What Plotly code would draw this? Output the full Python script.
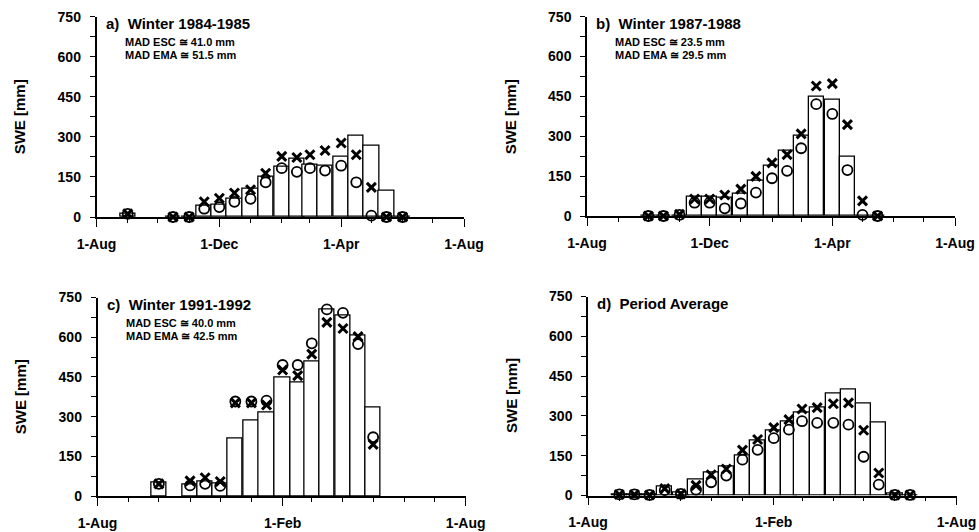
import plotly.graph_objects as go

# ---------------- data ----------------
# a) Winter 1984-1985
dates_a = ["1984-09-01", "1984-10-16", "1984-11-01", "1984-11-16", "1984-12-01", "1984-12-16",
           "1985-01-01", "1985-01-16", "1985-02-01", "1985-02-16", "1985-03-01", "1985-03-16",
           "1985-04-01", "1985-04-16", "1985-05-01", "1985-05-16", "1985-06-01"]
obs_a = [12, 0, 0, 42, 47, 67, 107, 152, 187, 217, 197, 192, 224, 304, 267, 100, 0]
esc_a = [12, 0, 0, 31, 37, 57, 68, 130, 183, 169, 183, 174, 192, 130, 5, 0, 0]
ema_a = [12, 0, 0, 57, 70, 90, 102, 164, 227, 223, 233, 249, 277, 233, 111, 0, 0]

# b) Winter 1987-1988
dates_b = ["1987-10-01", "1987-10-16", "1987-11-01", "1987-11-16", "1987-12-01", "1987-12-16",
           "1988-01-01", "1988-01-16", "1988-02-01", "1988-02-16", "1988-03-01", "1988-03-16",
           "1988-04-01", "1988-04-16", "1988-05-01", "1988-05-16"]
obs_b = [0, 0, 0, 73, 73, 69, 84, 132, 190, 247, 301, 450, 437, 223, 0, 0]
esc_b = [0, 0, 4, 50, 50, 29, 47, 88, 142, 170, 255, 421, 384, 173, 4, 0]
ema_b = [0, 0, 6, 64, 64, 79, 101, 149, 200, 231, 309, 489, 498, 344, 57, 0]

# c) Winter 1991-1992
dates_c = ["1991-10-01", "1991-11-01", "1991-11-16", "1991-12-01", "1991-12-16", "1992-01-01",
           "1992-01-16", "1992-02-01", "1992-02-16", "1992-03-01", "1992-03-16", "1992-04-01",
           "1992-04-16", "1992-05-01"]
obs_c = [52, 44, 55, 48, 219, 286, 317, 448, 427, 508, 706, 683, 605, 333]
esc_c = [46, 40, 46, 38, 357, 357, 360, 495, 495, 577, 705, 692, 574, 222]
ema_c = [46, 57, 69, 55, 352, 352, 344, 476, 455, 536, 656, 633, 602, 195]

# d) Period Average (nominal season)
dates_d = ["2001-09-01", "2001-09-16", "2001-10-01", "2001-10-16", "2001-11-01", "2001-11-16",
           "2001-12-01", "2001-12-16", "2002-01-01", "2002-01-16", "2002-02-01", "2002-02-16",
           "2002-03-01", "2002-03-16", "2002-04-01", "2002-04-16", "2002-05-01", "2002-05-16",
           "2002-06-01", "2002-06-16"]
obs_d = [3, 3, 3, 34, 12, 59, 88, 110, 152, 206, 246, 280, 311, 330, 386, 401, 345, 274, 8, 0]
esc_d = [4, 4, 2, 20, 6, 22, 50, 75, 135, 172, 216, 248, 280, 274, 274, 267, 146, 41, 2, 2]
ema_d = [4, 4, 2, 26, 6, 38, 78, 100, 171, 211, 256, 286, 326, 331, 346, 349, 246, 85, 2, 2]

ticks_a = ["1984-08-01", "1984-12-01", "1985-04-01", "1985-08-01"]
ticks_b = ["1987-08-01", "1987-12-01", "1988-04-01", "1988-08-01"]
ticks_c = ["1991-08-01", "1992-02-01", "1992-08-01"]
ticks_d = ["2001-08-01", "2002-02-01", "2002-08-01"]
ticktext_ab = ["1-Aug", "1-Dec", "1-Apr", "1-Aug"]
ticktext_cd = ["1-Aug", "1-Feb", "1-Aug"]

titles = ["a)  Winter 1984-1985", "b)  Winter 1987-1988", "c)  Winter 1991-1992", "d)  Period Average"]
mad_esc = ["MAD ESC ≅ 41.0 mm", "MAD ESC ≅ 23.5 mm", "MAD ESC ≅ 40.0 mm", None]
mad_ema = ["MAD EMA ≅ 51.5 mm", "MAD EMA ≅ 29.5 mm", "MAD EMA ≅ 42.5 mm", None]
y_ticks = [0, 150, 300, 450, 600, 750]
y_title = "SWE [mm]"

# ---------------- layout helpers ----------------
W, H = 979, 532
FONT = "Liberation Sans"


def px_x(p):
    return p / W


def px_y(p):
    return 1 - p / H


# panel boxes in pixels: (left, right, top, bottom)
boxes = [(96.5, 464, 16.7, 217), (587, 955, 16.7, 216),
         (97.5, 465.7, 297.5, 496), (588, 956.5, 296.5, 495.5)]

panels = [
    (dates_a, obs_a, esc_a, ema_a, ticks_a, ticktext_ab),
    (dates_b, obs_b, esc_b, ema_b, ticks_b, ticktext_ab),
    (dates_c, obs_c, esc_c, ema_c, ticks_c, ticktext_cd),
    (dates_d, obs_d, esc_d, ema_d, ticks_d, ticktext_cd),
]

fig = go.Figure()
BAR_W = 15.2 * 86400000
annotations = []
layout_axes = {}

for i, (dates, obs, esc, ema, tv, tt) in enumerate(panels):
    n = i + 1
    xa = "x" if n == 1 else f"x{n}"
    ya = "y" if n == 1 else f"y{n}"
    fig.add_trace(go.Bar(x=dates, y=obs, width=BAR_W, xaxis=xa, yaxis=ya,
                         marker=dict(color="white", line=dict(color="black", width=1.3)),
                         name="Observed"))
    fig.add_trace(go.Scatter(x=dates, y=esc, mode="markers", xaxis=xa, yaxis=ya, cliponaxis=False,
                             marker=dict(symbol="circle-open", size=10, color="black",
                                         line=dict(width=1.8, color="black")),
                             name="ESC"))
    fig.add_trace(go.Scatter(x=dates, y=ema, mode="markers", xaxis=xa, yaxis=ya, cliponaxis=False,
                             marker=dict(symbol="x-thin-open", size=9, color="black",
                                         line=dict(width=3, color="black")),
                             name="EMA"))
    l, r, t, b = boxes[i]
    xkey = "xaxis" if n == 1 else f"xaxis{n}"
    ykey = "yaxis" if n == 1 else f"yaxis{n}"
    layout_axes[xkey] = dict(
        domain=[px_x(l), px_x(r)], anchor=ya, type="date", automargin=False,
        range=[tv[0], tv[-1]], tickvals=tv, ticktext=tt,
        showline=True, linecolor="black", linewidth=1.5, showgrid=False, zeroline=False,
        ticks="outside", ticklen=8, tickwidth=1.3, tickcolor="black",
        ticklabelstandoff=5,
        minor=dict(ticks="outside", dtick="M1", tick0=tv[0], ticklen=4, tickwidth=1.2,
                   tickcolor="black", showgrid=False),
        tickfont=dict(family=FONT, size=14, color="black", weight="bold"),
    )
    layout_axes[ykey] = dict(
        domain=[px_y(b), px_y(t)], anchor=xa, range=[0, 750], automargin=False,
        tickvals=y_ticks,
        showline=True, linecolor="black", linewidth=1.5, showgrid=False, zeroline=False,
        ticks="outside", ticklen=5, tickwidth=1.3, tickcolor="black",
        ticklabelstandoff=6,
        minor=dict(ticks="outside", dtick=75, tick0=0, ticklen=5, tickwidth=1.2,
                   tickcolor="black", showgrid=False),
        tickfont=dict(family=FONT, size=14, color="black", weight="bold"),
    )
    # y axis title
    annotations.append(dict(text=y_title, textangle=-90, xref="paper", yref="paper",
                            x=px_x(l - 77), y=px_y((t + b) / 2), showarrow=False,
                            xanchor="center", yanchor="middle",
                            font=dict(family=FONT, size=15, color="black", weight="bold")))
    # panel title
    annotations.append(dict(text=titles[i], xref="paper", yref="paper",
                            x=px_x(l + 7), y=px_y(t + 7), showarrow=False,
                            xanchor="left", yanchor="middle",
                            font=dict(family=FONT, size=15, color="black", weight="bold")))
    if mad_esc[i]:
        annotations.append(dict(text=mad_esc[i], xref="paper", yref="paper",
                                x=px_x(l + 26), y=px_y(t + 25), showarrow=False,
                                xanchor="left", yanchor="middle",
                                font=dict(family=FONT, size=11, color="black", weight="bold")))
        annotations.append(dict(text=mad_ema[i], xref="paper", yref="paper",
                                x=px_x(l + 26), y=px_y(t + 38), showarrow=False,
                                xanchor="left", yanchor="middle",
                                font=dict(family=FONT, size=11, color="black", weight="bold")))

fig.update_layout(
    width=W, height=H, margin=dict(l=0, r=0, t=0, b=0, autoexpand=False),
    paper_bgcolor="white", plot_bgcolor="white", showlegend=False,
    bargap=0, font=dict(family=FONT, color="black"),
    annotations=annotations, **layout_axes,
)

fig.write_html("out.html")
